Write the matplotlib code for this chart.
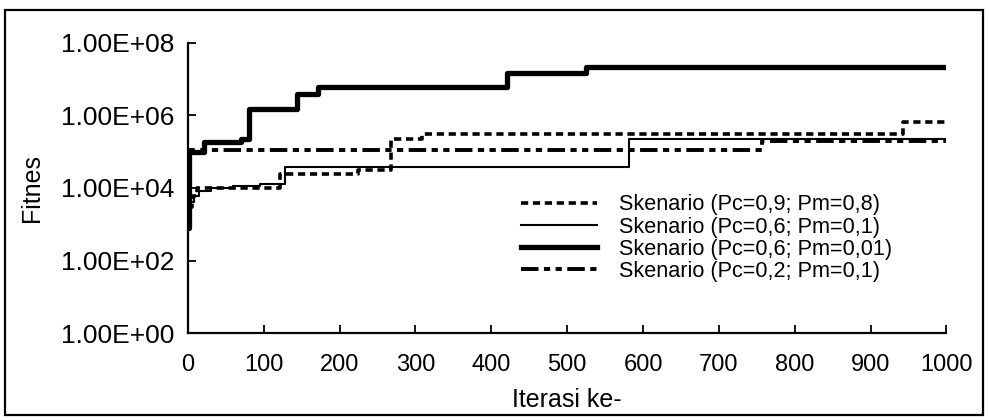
import matplotlib
matplotlib.use("Agg")
import matplotlib.pyplot as plt
from matplotlib.patches import Rectangle
from matplotlib.ticker import FuncFormatter, FixedLocator, NullLocator

plt.rcParams['font.family'] = ['Liberation Sans', 'DejaVu Sans']

# Data (iteration at which each level starts, fitness level)
iter_a = [0, 5, 12, 122, 224, 268, 308, 943, 1000]
fit_a = [3e3, 6e3, 1.0e4, 2.5e4, 3.2e4, 2.2e5, 3.1e5, 6.5e5, 6.5e5]
label_a = "Skenario (Pc=0,9; Pm=0,8)"

iter_b = [0, 3, 8, 15, 30, 60, 95, 128, 582, 1000]
fit_b = [2e3, 4e3, 6e3, 8e3, 1.0e4, 1.1e4, 1.3e4, 3.9e4, 2.25e5, 2.25e5]
label_b = "Skenario (Pc=0,6; Pm=0,1)"

iter_c = [0, 2, 21, 70, 80, 144, 171, 420, 525, 1000]
fit_c = [8e2, 1.0e5, 1.8e5, 2.3e5, 1.5e6, 4.0e6, 6.0e6, 1.45e7, 2.1e7, 2.1e7]
label_c = "Skenario (Pc=0,6; Pm=0,01)"

iter_d = [0, 3, 757, 1000]
fit_d = [3e3, 1.1e5, 2.0e5, 2.0e5]
label_d = "Skenario (Pc=0,2; Pm=0,1)"

x_ticks = [0, 100, 200, 300, 400, 500, 600, 700, 800, 900, 1000]
y_ticks = [1e0, 1e2, 1e4, 1e6, 1e8]

fig = plt.figure(figsize=(9.89, 4.2), dpi=100)
ax = fig.add_axes([0.190, 0.207, 0.767, 0.691])

ax.plot(iter_a, fit_a, drawstyle='steps-post', color='black', lw=2.6,
        linestyle=(0, (2.0, 1.3)), dash_capstyle='butt', label=label_a)
ax.plot(iter_b, fit_b, drawstyle='steps-post', color='black', lw=1.5,
        label=label_b)
ax.plot(iter_c, fit_c, drawstyle='steps-post', color='black', lw=3.8,
        label=label_c)
ax.plot(iter_d, fit_d, drawstyle='steps-post', color='black', lw=2.8,
        linestyle=(0, (4.5, 1.4, 1.6, 1.4, 1.6, 1.4)), dash_capstyle='butt',
        label=label_d)

ax.set_yscale('log')
ax.set_xlim(0, 1000)
ax.set_ylim(1, 1e8)
ax.xaxis.set_major_locator(FixedLocator(x_ticks))
ax.yaxis.set_major_locator(FixedLocator(y_ticks))
ax.yaxis.set_minor_locator(NullLocator())
ax.yaxis.set_major_formatter(FuncFormatter(lambda v, p: "%.2E" % v))
ax.tick_params(axis='both', direction='in', length=6, width=1.3, colors='black')
ax.tick_params(axis='y', labelsize=19, pad=10)
ax.tick_params(axis='x', labelsize=17, pad=15)
for s in ['top', 'right']:
    ax.spines[s].set_visible(False)
for s in ['left', 'bottom']:
    ax.spines[s].set_linewidth(1.6)

ax.set_ylabel("Fitnes", fontsize=18, labelpad=12)
ax.set_xlabel("Iterasi ke-", fontsize=18, labelpad=9)

leg = ax.legend(loc='upper left', bbox_to_anchor=(0.425, 0.515), frameon=False,
                fontsize=15.6, handlelength=3.5, handletextpad=1.0,
                labelspacing=0.05, borderpad=0.0)

fig.patches.append(Rectangle((5 / 989, 5 / 420), 978 / 989, 405 / 420,
                             transform=fig.transFigure, fill=False,
                             edgecolor='black', lw=1.6))

fig.savefig("out.png", dpi=100)
